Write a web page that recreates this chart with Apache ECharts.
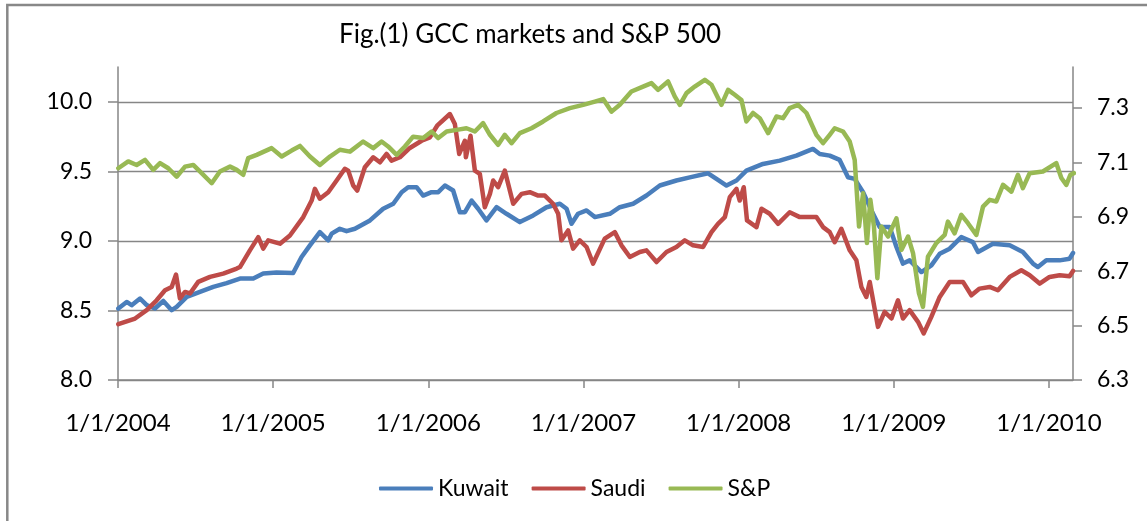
<!DOCTYPE html>
<html>
<head>
<meta charset="utf-8">
<title>GCC markets and S&amp;P 500</title>
<script src="https://cdn.jsdelivr.net/npm/echarts@6/dist/echarts.min.js"></script>
<style>
  html, body { margin: 0; padding: 0; background: #fff; }
  #chart { width: 1147px; height: 521px; }
</style>
</head>
<body>
<div id="chart"></div>
<script>
// x = date as decimal year, y = log index level
const kuwait = [
  [2004.002, 8.514], [2004.056, 8.561], [2004.088, 8.538], [2004.142, 8.586], [2004.185, 8.538],
  [2004.238, 8.514], [2004.292, 8.568], [2004.346, 8.502], [2004.378, 8.525], [2004.443, 8.597],
  [2004.528, 8.633], [2004.614, 8.669], [2004.700, 8.697], [2004.786, 8.729], [2004.872, 8.729],
  [2004.936, 8.765], [2005.022, 8.772], [2005.129, 8.769], [2005.183, 8.884], [2005.237, 8.968],
  [2005.301, 9.063], [2005.355, 9.004], [2005.377, 9.052], [2005.430, 9.087], [2005.473, 9.070],
  [2005.527, 9.087], [2005.624, 9.147], [2005.709, 9.231], [2005.774, 9.267], [2005.828, 9.350],
  [2005.870, 9.386], [2005.924, 9.386], [2005.967, 9.326], [2006.021, 9.350], [2006.064, 9.350],
  [2006.107, 9.398], [2006.160, 9.362], [2006.203, 9.206], [2006.236, 9.206], [2006.279, 9.290],
  [2006.321, 9.231], [2006.375, 9.147], [2006.440, 9.242], [2006.504, 9.195], [2006.590, 9.135],
  [2006.676, 9.183], [2006.762, 9.242], [2006.848, 9.267], [2006.891, 9.231], [2006.923, 9.123],
  [2006.965, 9.195], [2007.020, 9.219], [2007.073, 9.171], [2007.170, 9.195], [2007.234, 9.242],
  [2007.320, 9.267], [2007.406, 9.326], [2007.492, 9.398], [2007.599, 9.434], [2007.685, 9.457],
  [2007.803, 9.486], [2007.857, 9.446], [2007.922, 9.398], [2007.986, 9.434], [2008.050, 9.505],
  [2008.157, 9.553], [2008.265, 9.577], [2008.372, 9.613], [2008.479, 9.661], [2008.523, 9.625],
  [2008.587, 9.613], [2008.651, 9.582], [2008.705, 9.457], [2008.748, 9.446], [2008.802, 9.350],
  [2008.856, 9.219], [2008.909, 9.099], [2008.974, 9.099], [2009.017, 8.956], [2009.059, 8.837],
  [2009.102, 8.860], [2009.178, 8.776], [2009.242, 8.824], [2009.296, 8.908], [2009.360, 8.944],
  [2009.435, 9.027], [2009.510, 8.991], [2009.543, 8.920], [2009.639, 8.980], [2009.747, 8.968],
  [2009.832, 8.920], [2009.897, 8.837], [2009.929, 8.812], [2009.983, 8.860], [2010.069, 8.860],
  [2010.133, 8.872], [2010.155, 8.913]
];

const saudi = [
  [2004.002, 8.401], [2004.110, 8.442], [2004.185, 8.502], [2004.249, 8.573], [2004.303, 8.645],
  [2004.346, 8.669], [2004.374, 8.758], [2004.399, 8.586], [2004.432, 8.633], [2004.464, 8.622],
  [2004.517, 8.705], [2004.593, 8.741], [2004.678, 8.765], [2004.765, 8.801], [2004.786, 8.812],
  [2004.850, 8.932], [2004.904, 9.027], [2004.936, 8.944], [2004.968, 9.004], [2005.044, 8.980],
  [2005.108, 9.039], [2005.194, 9.171], [2005.248, 9.290], [2005.269, 9.374], [2005.301, 9.303],
  [2005.355, 9.350], [2005.409, 9.434], [2005.462, 9.518], [2005.484, 9.505], [2005.516, 9.398],
  [2005.542, 9.362], [2005.591, 9.529], [2005.645, 9.601], [2005.688, 9.565], [2005.731, 9.625],
  [2005.763, 9.577], [2005.817, 9.601], [2005.881, 9.668], [2005.957, 9.720], [2006.010, 9.744],
  [2006.057, 9.828], [2006.139, 9.912], [2006.171, 9.840], [2006.199, 9.625], [2006.236, 9.720],
  [2006.242, 9.601], [2006.272, 9.756], [2006.300, 9.505], [2006.332, 9.482], [2006.364, 9.242],
  [2006.397, 9.338], [2006.418, 9.434], [2006.450, 9.386], [2006.493, 9.505], [2006.547, 9.267],
  [2006.601, 9.338], [2006.654, 9.350], [2006.708, 9.326], [2006.751, 9.326], [2006.804, 9.267],
  [2006.837, 9.195], [2006.858, 9.004], [2006.901, 9.075], [2006.933, 8.944], [2006.976, 9.004],
  [2007.020, 8.956], [2007.062, 8.837], [2007.137, 9.016], [2007.202, 9.063], [2007.245, 8.968],
  [2007.299, 8.884], [2007.363, 8.920], [2007.406, 8.932], [2007.471, 8.848], [2007.535, 8.920],
  [2007.599, 8.956], [2007.653, 9.004], [2007.706, 8.968], [2007.771, 8.956], [2007.825, 9.063],
  [2007.867, 9.123], [2007.911, 9.171], [2007.943, 9.314], [2007.986, 9.374], [2008.007, 9.290],
  [2008.033, 9.386], [2008.054, 9.147], [2008.115, 9.099], [2008.147, 9.231], [2008.200, 9.195],
  [2008.254, 9.123], [2008.329, 9.206], [2008.394, 9.171], [2008.501, 9.171], [2008.544, 9.099],
  [2008.587, 9.063], [2008.619, 8.991], [2008.662, 9.087], [2008.716, 8.932], [2008.759, 8.860],
  [2008.791, 8.669], [2008.823, 8.597], [2008.845, 8.705], [2008.898, 8.382], [2008.941, 8.490],
  [2008.985, 8.442], [2009.027, 8.573], [2009.059, 8.442], [2009.102, 8.502], [2009.156, 8.418],
  [2009.193, 8.335], [2009.242, 8.454], [2009.296, 8.597], [2009.360, 8.705], [2009.446, 8.705],
  [2009.500, 8.609], [2009.553, 8.657], [2009.618, 8.669], [2009.671, 8.645], [2009.747, 8.741],
  [2009.822, 8.789], [2009.876, 8.753], [2009.940, 8.693], [2010.004, 8.741], [2010.069, 8.753],
  [2010.133, 8.746], [2010.155, 8.784]
];

const sp = [
  [2004.002, 7.078], [2004.066, 7.103], [2004.120, 7.090], [2004.174, 7.109], [2004.227, 7.072],
  [2004.271, 7.097], [2004.324, 7.078], [2004.378, 7.047], [2004.432, 7.084], [2004.485, 7.090],
  [2004.539, 7.060], [2004.604, 7.023], [2004.657, 7.066], [2004.722, 7.084], [2004.765, 7.072],
  [2004.807, 7.054], [2004.839, 7.115], [2004.894, 7.127], [2004.990, 7.152], [2005.055, 7.121],
  [2005.119, 7.143], [2005.173, 7.160], [2005.237, 7.121], [2005.301, 7.090], [2005.366, 7.121],
  [2005.430, 7.146], [2005.495, 7.139], [2005.580, 7.176], [2005.645, 7.152], [2005.699, 7.176],
  [2005.741, 7.158], [2005.796, 7.127], [2005.849, 7.158], [2005.902, 7.194], [2005.967, 7.189],
  [2006.021, 7.213], [2006.064, 7.189], [2006.118, 7.213], [2006.182, 7.219], [2006.246, 7.225],
  [2006.300, 7.213], [2006.353, 7.244], [2006.397, 7.201], [2006.450, 7.164], [2006.493, 7.201],
  [2006.536, 7.170], [2006.590, 7.207], [2006.665, 7.225], [2006.740, 7.250], [2006.826, 7.281],
  [2006.912, 7.299], [2006.998, 7.311], [2007.073, 7.323], [2007.127, 7.332], [2007.181, 7.286],
  [2007.234, 7.311], [2007.309, 7.360], [2007.384, 7.378], [2007.438, 7.391], [2007.481, 7.366],
  [2007.545, 7.397], [2007.588, 7.342], [2007.621, 7.311], [2007.664, 7.354], [2007.717, 7.378],
  [2007.782, 7.403], [2007.825, 7.385], [2007.889, 7.311], [2007.932, 7.366], [2007.975, 7.348],
  [2008.018, 7.329], [2008.050, 7.250], [2008.093, 7.281], [2008.136, 7.262], [2008.190, 7.207],
  [2008.244, 7.268], [2008.286, 7.262], [2008.329, 7.299], [2008.383, 7.311], [2008.437, 7.281],
  [2008.501, 7.201], [2008.544, 7.170], [2008.587, 7.201], [2008.619, 7.225], [2008.673, 7.213],
  [2008.716, 7.176], [2008.748, 7.109], [2008.776, 6.864], [2008.802, 6.986], [2008.827, 6.803],
  [2008.849, 6.962], [2008.872, 6.864], [2008.894, 6.674], [2008.920, 6.864], [2008.963, 6.827],
  [2009.017, 6.894], [2009.049, 6.778], [2009.092, 6.827], [2009.124, 6.766], [2009.162, 6.619],
  [2009.188, 6.569], [2009.220, 6.753], [2009.274, 6.803], [2009.328, 6.833], [2009.349, 6.882],
  [2009.392, 6.839], [2009.435, 6.907], [2009.478, 6.876], [2009.532, 6.833], [2009.575, 6.937],
  [2009.618, 6.962], [2009.661, 6.956], [2009.704, 7.017], [2009.758, 6.992], [2009.800, 7.054],
  [2009.832, 7.005], [2009.876, 7.060], [2009.961, 7.066], [2010.047, 7.097], [2010.080, 7.042],
  [2010.112, 7.017], [2010.138, 7.054], [2010.161, 7.060]
];

const yearTicks = [2004, 2005, 2006, 2007, 2008, 2009, 2010];
const leftTicks = [8.0, 8.5, 9.0, 9.5, 10.0];
const rightTicks = [6.3, 6.5, 6.7, 6.9, 7.1, 7.3];

const gray = '#868686';
const font = 'Lato, "Open Sans", sans-serif';

const chart = echarts.init(document.getElementById('chart'));
const option = {
  animation: false,
  backgroundColor: '#fff',
  textStyle: { fontFamily: font },
  title: {
    text: 'Fig.(1) GCC markets and S&P 500',
    left: 334,
    top: 17,
    textStyle: { fontFamily: font, fontSize: 26, fontWeight: 'normal', color: '#000' }
  },
  legend: {
    left: 374,
    top: 472,
    icon: 'roundRect',
    itemWidth: 54,
    itemHeight: 4,
    itemGap: 23,
    textStyle: { fontFamily: font, fontSize: 23, color: '#000' },
    data: ['Kuwait', 'Saudi', 'S&P']
  },
  grid: { left: 118, right: 74, top: 67, bottom: 141 },
  // chart frame (only the top and left edges are in view)
  graphic: [{
    type: 'rect',
    silent: true,
    shape: { x: 7.3, y: 5, width: 1300, height: 700 },
    style: { fill: 'none', stroke: '#888', lineWidth: 2.5 }
  }],
  xAxis: {
    type: 'value',
    min: 2004,
    max: 2010.155,
    axisLine: { show: true, lineStyle: { color: gray, width: 1.5 } },
    axisTick: { show: true, customValues: yearTicks, length: 8, lineStyle: { color: gray, width: 1.5 } },
    axisLabel: {
      customValues: yearTicks,
      formatter: v => '1/1/' + v,
      margin: 31,
      fontSize: 24,
      color: '#000',
      fontFamily: font
    },
    splitLine: { show: false }
  },
  yAxis: [{
    type: 'value',
    min: 8,
    max: 10.25,
    axisLine: { show: true, lineStyle: { color: gray, width: 1.5 } },
    axisTick: { show: true, customValues: leftTicks, length: 10, lineStyle: { color: gray, width: 1.5 } },
    axisLabel: {
      customValues: leftTicks,
      formatter: v => v.toFixed(1),
      margin: 26,
      fontSize: 23,
      color: '#000',
      fontFamily: font
    },
    splitLine: { show: true, lineStyle: { color: gray, width: 1.3 } }
  }, {
    type: 'value',
    position: 'right',
    min: 6.3,
    max: 7.45,
    axisLine: { show: true, lineStyle: { color: gray, width: 1.5 } },
    axisTick: { show: true, customValues: rightTicks, length: 9, lineStyle: { color: gray, width: 1.5 } },
    axisLabel: {
      customValues: rightTicks,
      formatter: v => v.toFixed(1),
      margin: 24,
      fontSize: 23,
      color: '#000',
      fontFamily: font
    },
    splitLine: { show: false }
  }],
  series: [
    {
      name: 'Kuwait', type: 'line', data: kuwait, yAxisIndex: 0,
      symbol: 'none', color: '#4a7ebb',
      lineStyle: { width: 4.5, join: 'round', cap: 'round' }
    },
    {
      name: 'Saudi', type: 'line', data: saudi, yAxisIndex: 0,
      symbol: 'none', color: '#be4b48',
      lineStyle: { width: 4.5, join: 'round', cap: 'round' }
    },
    {
      name: 'S&P', type: 'line', data: sp, yAxisIndex: 1,
      symbol: 'none', color: '#98b954',
      lineStyle: { width: 4.5, join: 'round', cap: 'round' }
    }
  ]
};
chart.setOption(option);
</script>
</body>
</html>
